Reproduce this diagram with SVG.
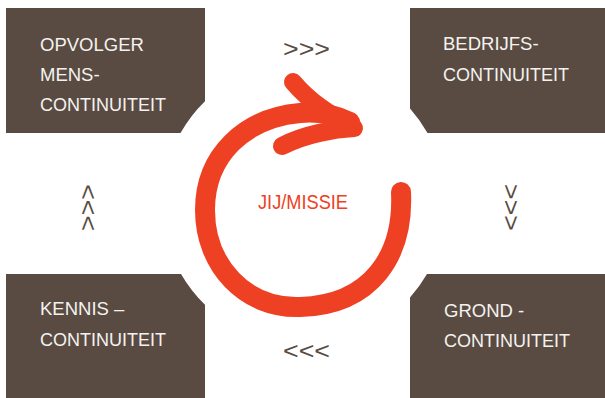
<svg xmlns="http://www.w3.org/2000/svg" width="605" height="398" viewBox="0 0 605 398">
<style>
.box{fill:#594B41;}
.lbl{font-family:"Liberation Sans",Arial,sans-serif;font-size:18.5px;fill:#F4F2F0;}
.chev{font-family:"Liberation Sans",Arial,sans-serif;font-size:24px;fill:#594B41;}
.red{fill:none;stroke:#EE4123;stroke-linecap:round;stroke-linejoin:round;}
.mid{font-family:"Liberation Sans",Arial,sans-serif;font-size:20px;fill:#EE4123;}
</style>
<rect width="605" height="398" fill="#FFFFFF"/>
<g id="node-opvolger">
<path class="box" d="M6 8 H205 V101.2 A142 142 0 0 0 180.5 133 H6 Z"/>
<text class="lbl" x="40" y="51">OPVOLGER</text>
<text class="lbl" x="40" y="81">MENS-</text>
<text class="lbl" x="40" y="111" textLength="126" lengthAdjust="spacingAndGlyphs">CONTINUITEIT</text>
</g>
<g id="node-bedrijf">
<path class="box" d="M410 8 H605 V133 H427.5 A142 142 0 0 0 410 108.5 Z"/>
<text class="lbl" x="443" y="50">BEDRIJFS-</text>
<text class="lbl" x="443" y="81" textLength="126" lengthAdjust="spacingAndGlyphs">CONTINUITEIT</text>
</g>
<g id="node-kennis">
<path class="box" d="M6 274 H181 A142 142 0 0 0 205 304.8 V398 H6 Z"/>
<text class="lbl" x="40" y="315">KENNIS –</text>
<text class="lbl" x="40" y="346" textLength="126" lengthAdjust="spacingAndGlyphs">CONTINUITEIT</text>
</g>
<g id="node-grond">
<path class="box" d="M427 274 H605 V398 H410 V297.5 A142 142 0 0 0 427 274 Z"/>
<text class="lbl" x="444" y="317">GROND -</text>
<text class="lbl" x="444" y="347" textLength="126" lengthAdjust="spacingAndGlyphs">CONTINUITEIT</text>
</g>
<g id="node-missie">
<path class="red" stroke-width="20" d="M401 192 C404 255 372 305 300 307 C245 309 205 265 205 210 C205 155 245 118 300 113 C320 111 338 116 350 122"/>
<path class="red" stroke-width="18" d="M293 82 C310 102 330 115 354 128 C335 129 305 134 282 146"/>
<text class="mid" x="303" y="209" text-anchor="middle" textLength="90" lengthAdjust="spacingAndGlyphs">JIJ/MISSIE</text>
</g>
<g id="connectors">
<text class="chev" x="306.5" y="57" text-anchor="middle" textLength="47" lengthAdjust="spacingAndGlyphs">&gt;&gt;&gt;</text>
<text class="chev" x="306.5" y="358.5" text-anchor="middle" textLength="47" lengthAdjust="spacingAndGlyphs">&lt;&lt;&lt;</text>
<text class="chev" transform="translate(87.5,207.5) rotate(-90)" x="0" y="8.6" text-anchor="middle" textLength="47" lengthAdjust="spacingAndGlyphs">&gt;&gt;&gt;</text>
<text class="chev" transform="translate(512,207.5) rotate(90)" x="0" y="8.6" text-anchor="middle" textLength="47" lengthAdjust="spacingAndGlyphs">&gt;&gt;&gt;</text>
</g>
</svg>
